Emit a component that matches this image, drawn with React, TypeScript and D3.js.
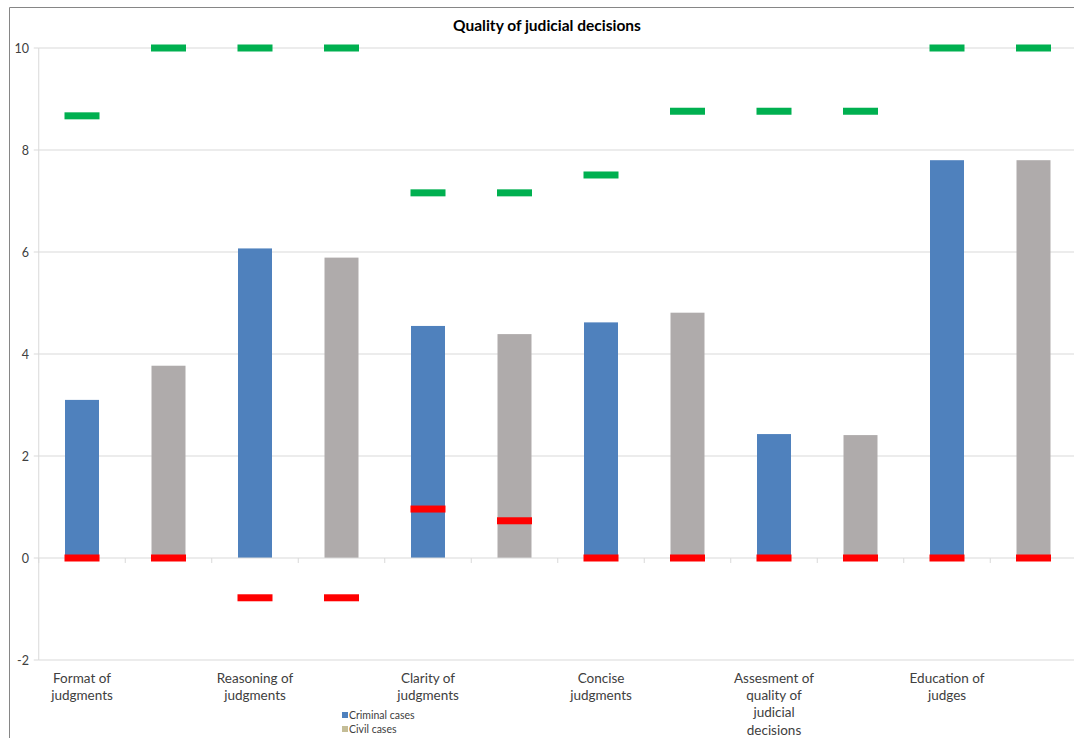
import React from "react";
import * as d3 from "d3";

const categories = [
  "Format of judgments", "", "Reasoning of judgments", "", "Clarity of judgments", "",
  "Concise judgments", "", "Assesment of quality of judicial decisions", "", "Education of judges", "",
];
const caseType = ["criminal", "civil", "criminal", "civil", "criminal", "civil", "criminal", "civil", "criminal", "civil", "criminal", "civil"];
const averages = [3.1, 3.77, 6.07, 5.89, 4.55, 4.39, 4.62, 4.81, 2.43, 2.41, 7.8, 7.8];
const maxima = [8.67, 10, 10, 10, 7.16, 7.16, 7.51, 8.76, 8.76, 8.76, 10, 10];
const minima = [0, 0, -0.78, -0.78, 0.96, 0.73, 0, 0, 0, 0, 0, 0];
const yTicks = [-2, 0, 2, 4, 6, 8, 10];
const legendItems = [
  { label: "Criminal cases", color: "#4f81bd" },
  { label: "Civil cases", color: "#c4bd97" },
];

const W = 1074;
const H = 738;
const FONT = "Lato, 'Open Sans', sans-serif";

function wrapLabel(text: string, maxChars: number): string[] {
  const words = text.split(" ");
  const lines: string[] = [];
  let cur = "";
  for (const w of words) {
    const next = cur ? cur + " " + w : w;
    if (next.length > maxChars && cur) {
      lines.push(cur);
      cur = w;
    } else cur = next;
  }
  if (cur) lines.push(cur);
  return lines;
}

export default function App() {
  const left = 38.75;
  const slot = 86.5;
  const x = d3
    .scaleBand<number>()
    .domain(d3.range(categories.length))
    .range([left, left + slot * categories.length])
    .paddingInner(0)
    .paddingOuter(0);
  const y = d3.scaleLinear().domain([-2, 10]).range([660, 48]);
  const barW = 34;
  const markW = 35;
  const markH = 7;
  const colorOf = (t: string) => (t === "criminal" ? "#4f81bd" : "#afabab");

  const labelLines: Record<number, string[]> = {
    0: ["Format of", "judgments"],
    2: ["Reasoning of", "judgments"],
    4: ["Clarity of", "judgments"],
    6: ["Concise", "judgments"],
    8: ["Assesment of", "quality of", "judicial", "decisions"],
    10: ["Education of", "judges"],
  };

  return (
    <svg
      width={W}
      height={H}
      style={{ position: "absolute", left: 0, top: 0, background: "#fff", fontFamily: FONT }}
    >
      <rect x={0} y={0} width={W} height={H} fill="#fff" />
      {/* chart border */}
      <line x1={9.5} y1={7.5} x2={W} y2={7.5} stroke="#868686" strokeWidth={1} />
      <line x1={9.5} y1={7.5} x2={9.5} y2={H} stroke="#868686" strokeWidth={1} />

      <text x={547} y={31} textAnchor="middle" fontSize={15.5} fontWeight="bold" fill="#000">
        Quality of judicial decisions
      </text>

      {/* gridlines */}
      {yTicks.map((t) => (
        <g key={t}>
          {t !== 0 && (
            <line x1={left} x2={W} y1={y(t)} y2={y(t)} stroke="#d9d9d9" strokeWidth={1} />
          )}
          <line x1={left - 5} x2={left} y1={y(t)} y2={y(t)} stroke="#d9d9d9" strokeWidth={1} />
          <text x={29} y={y(t) + 4.5} textAnchor="end" fontSize={12.5} fill="#404040">
            {t}
          </text>
        </g>
      ))}
      {/* y axis */}
      <line x1={left} x2={left} y1={y(10)} y2={y(-2)} stroke="#d9d9d9" strokeWidth={1} />

      {/* bars */}
      {averages.map((v, i) => {
        const cx = (x(i) as number) + x.bandwidth() / 2;
        return (
          <rect
            key={"b" + i}
            x={cx - barW / 2}
            y={y(Math.max(v, 0))}
            width={barW}
            height={Math.abs(y(v) - y(0))}
            fill={colorOf(caseType[i])}
          />
        );
      })}

      {/* x axis at 0 */}
      <line x1={left} x2={W} y1={y(0)} y2={y(0)} stroke="#d9d9d9" strokeWidth={1} />
      {d3.range(categories.length + 1).map((k) => (
        <line
          key={"t" + k}
          x1={left + k * slot}
          x2={left + k * slot}
          y1={y(0)}
          y2={y(0) + 5}
          stroke="#d9d9d9"
          strokeWidth={1}
        />
      ))}

      {/* max markers */}
      {maxima.map((v, i) => {
        const cx = (x(i) as number) + x.bandwidth() / 2;
        return (
          <rect key={"mx" + i} x={cx - markW / 2} y={y(v) - markH / 2} width={markW} height={markH} fill="#00b050" />
        );
      })}
      {/* min markers */}
      {minima.map((v, i) => {
        const cx = (x(i) as number) + x.bandwidth() / 2;
        return (
          <rect key={"mn" + i} x={cx - markW / 2} y={y(v) - markH / 2} width={markW} height={markH} fill="#ff0000" />
        );
      })}

      {/* category labels */}
      {categories.map((c, i) => {
        if (!c) return null;
        const cx = (x(i) as number) + x.bandwidth() / 2;
        const lines = labelLines[i] ?? wrapLabel(c, 12);
        return (
          <text key={"c" + i} x={cx} y={683} textAnchor="middle" fontSize={13.5} fill="#404040">
            {lines.map((l, j) => (
              <tspan key={j} x={cx} dy={j === 0 ? 0 : 17.2}>
                {l}
              </tspan>
            ))}
          </text>
        );
      })}

      {/* legend */}
      {legendItems.map((it, i) => (
        <g key={it.label} transform={`translate(342, ${712 + i * 14})`}>
          <rect x={0} y={0} width={6} height={6} fill={it.color} />
          <text x={7} y={7} fontSize={10.5} fill="#404040">
            {it.label}
          </text>
        </g>
      ))}
    </svg>
  );
}
